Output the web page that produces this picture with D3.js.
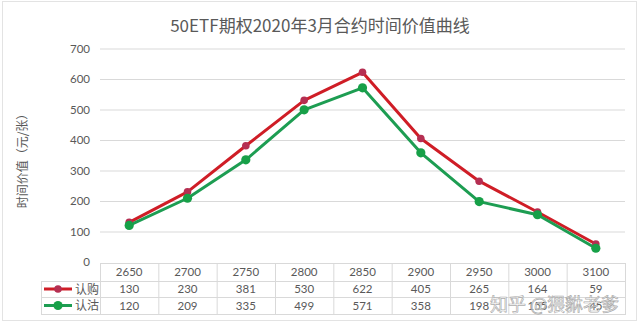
<!DOCTYPE html>
<html>
<head>
<meta charset="utf-8">
<script src="https://cdn.jsdelivr.net/npm/d3@7"></script>
<style>
  html, body { margin: 0; padding: 0; background: #fff; }
  svg { display: block; font-family: "Noto Sans CJK SC", "Noto Sans", sans-serif; }
</style>
</head>
<body>
<svg id="chart" width="640" height="330"></svg>
<script>
// Strike prices (columns of the data table)
const strikes = ["2650", "2700", "2750", "2800", "2850", "2900", "2950", "3000", "3100"];
// Time value per contract, yuan
const callValues = [130, 230, 381, 530, 622, 405, 265, 164, 59];
const putValues  = [120, 209, 335, 499, 571, 358, 198, 155, 45];
const seriesNames = ["认购", "认沽"];
const yTicks = [0, 100, 200, 300, 400, 500, 600, 700];

const titleText = "50ETF期权2020年3月合约时间价值曲线";
const yTitle = "时间价值（元/张）";

const series = [
  { name: seriesNames[0], values: callValues, line: "#cf1d26", dot: "#b52f52", r: 3.8 },
  { name: seriesNames[1], values: putValues,  line: "#1d9d52", dot: "#17a048", r: 4.6 }
];

const svg = d3.select("#chart");
const textColor = "#595959";
const gridColor = "#d9d9d9";
const numFont = "Lato, 'Noto Sans', sans-serif";

// outer frame
svg.append("rect")
  .attr("x", 2.5).attr("y", 1.5).attr("width", 634).attr("height", 319)
  .attr("fill", "none").attr("stroke", "#e3e3e3");

const plot = { left: 100, right: 625, top: 48.5, bottom: 262 };

const x = d3.scaleBand().domain(strikes).range([plot.left, plot.right]).paddingInner(0).paddingOuter(0);
const y = d3.scaleLinear().domain([0, 700]).range([plot.bottom, plot.top]);
const cx = d => x(d) + x.bandwidth() / 2;

// title
svg.append("text")
  .attr("x", 320).attr("y", 32)
  .attr("text-anchor", "middle")
  .attr("font-size", 17).attr("fill", textColor)
  .text(titleText);

// y axis title
svg.append("text")
  .attr("transform", "translate(27,158) rotate(-90)")
  .attr("text-anchor", "middle")
  .attr("font-size", 12).attr("fill", textColor)
  .text(yTitle);

// y axis with gridlines
const yAxis = d3.axisLeft(y).tickValues(yTicks).tickSize(-(plot.right - plot.left)).tickPadding(10);
const gy = svg.append("g").attr("transform", `translate(${plot.left},0)`).call(yAxis);
gy.select(".domain").remove();
gy.selectAll(".tick line").attr("stroke", gridColor).attr("stroke-width", 1)
  .filter(d => d === 0).remove();
gy.selectAll(".tick text").attr("fill", textColor).attr("font-size", 11.5)
  .attr("font-family", numFont);

// lines and markers
const line = d3.line().x((d, i) => cx(strikes[i])).y(d => y(d));
series.forEach(s => {
  svg.append("path")
    .attr("d", line(s.values))
    .attr("fill", "none").attr("stroke", s.line)
    .attr("stroke-width", 3).attr("stroke-linejoin", "round");
});
series.forEach(s => {
  svg.append("g").selectAll("circle").data(s.values).join("circle")
    .attr("cx", (d, i) => cx(strikes[i]))
    .attr("cy", d => y(d))
    .attr("r", s.r)
    .attr("fill", s.dot);
});

// data table below the plot
const rowEdges = [263, 281, 297, 314];
const legendLeft = 41;
const tbl = svg.append("g").attr("font-size", 11.5).attr("fill", textColor)
  .attr("font-family", numFont);

// header row border (starts at plot left)
tbl.append("rect")
  .attr("x", plot.left + 0.5).attr("y", rowEdges[0] + 0.5)
  .attr("width", plot.right - plot.left).attr("height", rowEdges[1] - rowEdges[0])
  .attr("fill", "none").attr("stroke", gridColor);
// data rows border (extend into legend column)
tbl.append("rect")
  .attr("x", legendLeft + 0.5).attr("y", rowEdges[1] + 0.5)
  .attr("width", plot.right - legendLeft).attr("height", rowEdges[3] - rowEdges[1])
  .attr("fill", "none").attr("stroke", gridColor);
tbl.append("line")
  .attr("x1", legendLeft).attr("x2", plot.right)
  .attr("y1", rowEdges[2] + 0.5).attr("y2", rowEdges[2] + 0.5)
  .attr("stroke", gridColor);
// column separators
strikes.forEach(s => {
  tbl.append("line")
    .attr("x1", x(s) + 0.5).attr("x2", x(s) + 0.5)
    .attr("y1", rowEdges[0]).attr("y2", rowEdges[3])
    .attr("stroke", gridColor);
});

// header labels
tbl.selectAll("text.hdr").data(strikes).join("text")
  .attr("class", "hdr")
  .attr("x", d => cx(d)).attr("y", (rowEdges[0] + rowEdges[1]) / 2 + 4)
  .attr("text-anchor", "middle")
  .text(d => d);

// value rows with legend keys
series.forEach((s, k) => {
  const top = rowEdges[k + 1], bot = rowEdges[k + 2];
  const mid = (top + bot) / 2;
  tbl.selectAll(`text.v${k}`).data(s.values).join("text")
    .attr("class", `v${k}`)
    .attr("x", (d, i) => cx(strikes[i])).attr("y", mid + 4)
    .attr("text-anchor", "middle")
    .text(d => d);
  tbl.append("line")
    .attr("x1", 44).attr("x2", 72).attr("y1", mid).attr("y2", mid)
    .attr("stroke", s.line).attr("stroke-width", 3);
  tbl.append("circle").attr("cx", 58).attr("cy", mid).attr("r", s.r).attr("fill", s.dot);
  tbl.append("text")
    .attr("x", 75).attr("y", mid + 4.5)
    .attr("font-size", 12)
    .attr("font-family", "'Noto Sans CJK SC', sans-serif")
    .text(s.name);
});

// site watermark
svg.append("text")
  .attr("x", 490).attr("y", 311)
  .attr("font-size", 18)
  .attr("font-family", "'Noto Sans CJK SC', sans-serif")
  .attr("fill", "rgba(255,255,255,0.75)")
  .attr("stroke", "rgba(150,150,150,0.8)").attr("stroke-width", 0.7)
  .text("知乎 @猥貅老爹");
</script>
</body>
</html>
